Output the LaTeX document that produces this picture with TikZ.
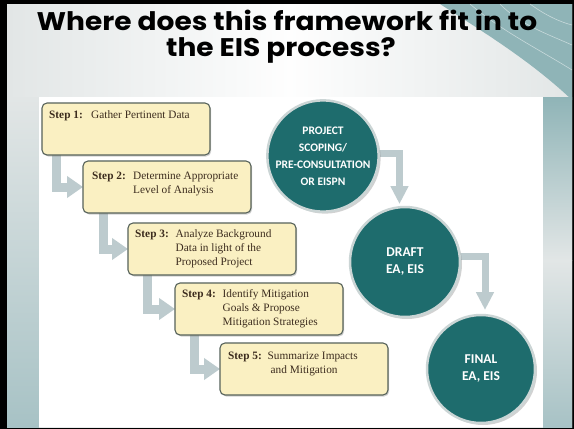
\documentclass[tikz,border=0pt]{standalone}
\usepackage{fontspec}
\setmainfont{Liberation Serif}
\newfontfamily\titlefont{Poppins}[FakeStretch=1.1]
\newfontfamily\circfont{Carlito}
\usetikzlibrary{arrows.meta,shadows,calc}
\definecolor{boxfill}{HTML}{FAF0C2}
\definecolor{boxline}{HTML}{56625A}
\definecolor{barcol}{HTML}{BDCBCE}
\definecolor{tealc}{HTML}{1E6C6D}
\definecolor{ringc}{HTML}{CBD5D5}
\definecolor{txtbrown}{HTML}{3C2C1E}
\definecolor{slidebg}{HTML}{E2E6E6}
\definecolor{decoteal}{HTML}{8FB4B7}
\definecolor{stripteal}{HTML}{A7C2C5}
\begin{document}
\begin{tikzpicture}[x=1pt,y=-1pt,
  stepframe/.style={minimum width=168pt, minimum height=52pt, anchor=north west, inner sep=0pt, outer sep=0pt},
  stepbox/.style={stepframe, draw=boxline, line width=1.1pt, fill=boxfill, rounded corners=5pt,
    drop shadow={shadow xshift=1.2pt, shadow yshift=-1.5pt, opacity=0.35}},
  steptxt/.style={anchor=base west, inner sep=0pt, font=\fontsize{11.3}{14}\selectfont, text=txtbrown},
  sbar/.style={draw=barcol, line width=9pt, line join=miter, -{Triangle[length=16pt,width=21pt]}},
  cbar/.style={draw=barcol, line width=7pt, line join=miter, -{Triangle[length=18pt,width=17pt]}},
  cframe/.style={circle, inner sep=0pt, outer sep=0pt},
  circ/.style={cframe, fill=tealc, draw=ringc, line width=2.5pt,
    text=white, align=center, drop shadow={shadow xshift=2pt, shadow yshift=-2pt, opacity=0.35}},
  cfont/.style={font=\circfont\bfseries\fontsize{#1}{17}\selectfont},
  titletxt/.style={anchor=base, inner sep=0pt, font=\titlefont\bfseries\fontsize{25.5}{26}\selectfont},
]
\useasboundingbox (0,0) rectangle (574,429);
% frame and slide background
\fill[black] (0,0) rectangle (574,429);
\shade[left color=slidebg, right color=slidebg, middle color=white!96!slidebg] (7,4) rectangle (572,427);
% top-right decoration
\fill[decoteal] (440,4) .. controls (480,30) and (530,60) .. (572,100) -- (572,4) -- cycle;
\draw[white, opacity=0.5, line width=0.6pt] (470,4) .. controls (500,30) and (540,50) .. (572,70);
\draw[white, opacity=0.5, line width=0.6pt] (500,4) .. controls (520,25) and (550,35) .. (572,45);
\draw[white, opacity=0.5, line width=0.6pt] (530,4) .. controls (545,15) and (560,22) .. (572,25);
% side strips
\shade[top color=slidebg, bottom color=stripteal] (7,97) rectangle (39,427);
\shade[top color=decoteal, bottom color=slidebg] (543,97) rectangle (572,260);
\shade[top color=slidebg, bottom color=stripteal] (543,260) rectangle (572,427);
% picture area
\fill[white] (39,97) rectangle (543,427);
% title
\node[titletxt] (title1) at (287,30) {Where does this framework fit in to};
\node[titletxt] (title2) at (281,56) {the EIS process?};
% step box frames (for naming)
\node[stepframe] (s1) at (42,103) {};
\node[stepframe] (s2) at (83,161) {};
\node[stepframe] (s3) at (128,223) {};
\node[stepframe] (s4) at (175,283) {};
\node[stepframe] (s5) at (220,343) {};
% step connectors (under the boxes)
\draw[sbar] ([xshift=14pt,yshift=4pt]s1.south west) |- (s2.west);
\draw[sbar] ([xshift=20pt,yshift=4pt]s2.south west) |- (s3.west);
\draw[sbar] ([xshift=19.5pt,yshift=4pt]s3.south west) |- (s4.west);
\draw[sbar] ([xshift=19pt,yshift=4pt]s4.south west) |- (s5.west);
% visible boxes
\node[stepbox] (b1) at (s1.north west) {};
\node[stepbox] (b2) at (s2.north west) {};
\node[stepbox] (b3) at (s3.north west) {};
\node[stepbox] (b4) at (s4.north west) {};
\node[stepbox] (b5) at (s5.north west) {};
% step texts
\node[steptxt] (t1) at (49,118.5) {\begin{tabular}[t]{@{}l@{}l@{}}\makebox[42pt][l]{\textbf{Step 1:}} & Gather Pertinent Data\end{tabular}};
\node[steptxt] (t2) at (92,179.5) {\begin{tabular}[t]{@{}l@{}l@{}}\makebox[41pt][l]{\textbf{Step 2:}} & Determine Appropriate\\ & Level of Analysis\end{tabular}};
\node[steptxt] (t3) at (135,237.5) {\begin{tabular}[t]{@{}l@{}l@{}}\makebox[40.5pt][l]{\textbf{Step 3:}} & Analyze Background\\ & Data in light of the\\ & Proposed Project\end{tabular}};
\node[steptxt] (t4) at (182,297.5) {\begin{tabular}[t]{@{}l@{}l@{}}\makebox[40.5pt][l]{\textbf{Step 4:}} & Identify Mitigation\\ & Goals \& Propose\\ & Mitigation Strategies\end{tabular}};
\node[steptxt] (t5) at (228,359) {\begin{tabular}[t]{@{}l@{}l@{}}\makebox[39.5pt][l]{\textbf{Step 5:}} & Summarize Impacts\\ & \hspace{3pt}and Mitigation\end{tabular}};
% circle frames (for naming)
\node[cframe, minimum size=110pt] (c1) at (323,156) {};
\node[cframe, minimum size=110pt] (c2) at (405,262) {};
\node[cframe, minimum size=108pt] (c3) at (481,369) {};
% circle connectors
\draw[cbar] ([yshift=2.5pt]c1.center) -| ([xshift=-5.5pt,yshift=3pt]c2.north);
\draw[cbar] ([yshift=5.5pt]c2.center) -| ([xshift=4pt,yshift=5pt]c3.north);
% visible circles
\node[circ, minimum size=110pt, cfont=11.5] (k1) at (c1) {PROJECT\\SCOPING/\\PRE-CONSULTATION\\OR EISPN};
\node[circ, minimum size=110pt, cfont=13.5] (k2) at (c2) {DRAFT\\EA, EIS};
\node[circ, minimum size=108pt, cfont=13.5] (k3) at (c3) {FINAL\\EA, EIS};
\end{tikzpicture}
\end{document}
